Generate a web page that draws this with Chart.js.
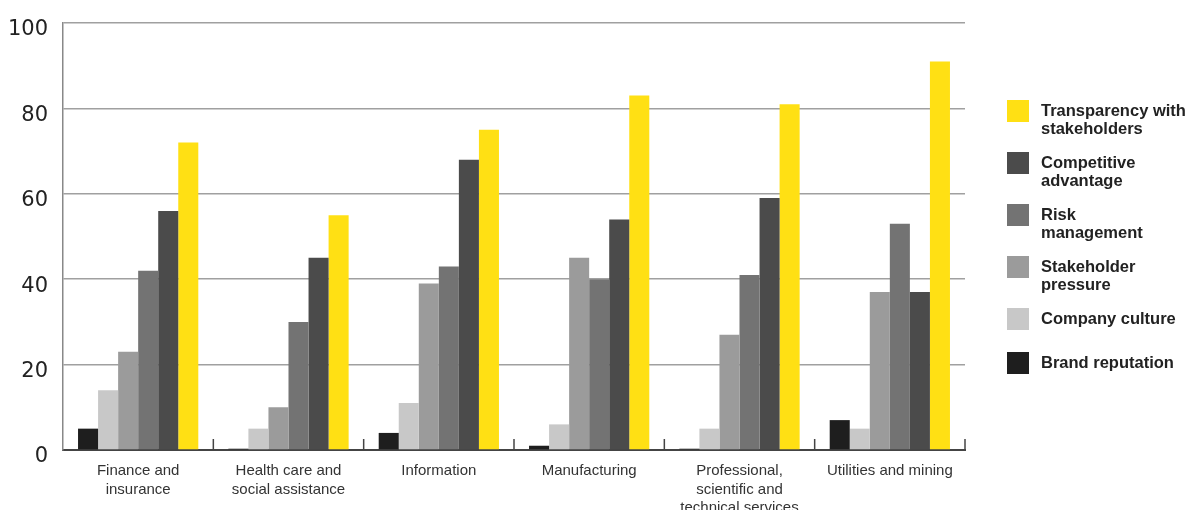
<!DOCTYPE html>
<html>
<head>
<meta charset="utf-8">
<script src="https://cdn.jsdelivr.net/npm/chart.js@4"></script>
<style>
  html, body { margin: 0; padding: 0; background: #fff; }
  #wrap { position: relative; width: 1193px; height: 510px; }
  #legend { position: absolute; left: 1007px; top: 100px; font-family: "Liberation Sans", sans-serif; font-weight: bold; font-size: 16.5px; line-height: 18px; color: #222; }
  .item { position: relative; padding-left: 34px; }
  .swatch { position: absolute; left: 0; top: 0; width: 22px; height: 22px; }
  .txt { padding-top: 1px; }
</style>
</head>
<body>
<div id="wrap">
  <canvas id="chart" width="1193" height="510"></canvas>
  <div id="legend"></div>
</div>
<script>
const categories = [
    ['Finance and', 'insurance'],
    ['Health care and', 'social assistance'],
    ['Information'],
    ['Manufacturing'],
    ['Professional,', 'scientific and', 'technical services'],
    ['Utilities and mining']
];

const brandReputation = [5, 0.3, 4, 1, 0.3, 7];
const companyCulture = [14, 5, 11, 6, 5, 5];
const stakeholderPressure = [23, 10, 39, 45, 27, 37];
const riskManagement = [42, 30, 43, 40, 41, 53];
const competitiveAdvantage = [56, 45, 68, 54, 59, 37];
const transparency = [72, 55, 75, 83, 81, 91];

const yTicks = [0, 20, 40, 60, 80, 100];

// series left to right inside each group
const series = [
    { label: ['Brand reputation'], data: brandReputation, color: '#1e1e1e' },
    { label: ['Company culture'], data: companyCulture, color: '#c8c8c8' },
    { label: ['Stakeholder', 'pressure'], data: stakeholderPressure, color: '#9b9b9b' },
    { label: ['Risk', 'management'], data: riskManagement, color: '#737373' },
    { label: ['Competitive', 'advantage'], data: competitiveAdvantage, color: '#4b4b4b' },
    { label: ['Transparency with', 'stakeholders'], data: transparency, color: '#ffe014' }
];

// small upward ticks at the category boundaries on the x axis
const boundaryTicks = {
    id: 'boundaryTicks',
    afterDatasetsDraw(chart) {
        const x = chart.scales.x;
        const ctx = chart.ctx;
        const half = (x.getPixelForTick(1) - x.getPixelForTick(0)) / 2;
        ctx.save();
        ctx.strokeStyle = '#444';
        ctx.lineWidth = 1.5;
        for (let i = 1; i <= categories.length; i++) {
            const px = x.getPixelForTick(i - 1) + half;
            ctx.beginPath();
            ctx.moveTo(px, x.top);
            ctx.lineTo(px, x.top - 11);
            ctx.stroke();
        }
        ctx.restore();
    }
};

const ctx = document.getElementById('chart').getContext('2d');
const chart = new Chart(ctx, {
    type: 'bar',
    data: {
        labels: categories,
        datasets: series.map(s => ({
            label: s.label.join(' '),
            data: s.data,
            backgroundColor: s.color,
            borderWidth: 0,
            categoryPercentage: 0.8,
            barPercentage: 1.0
        }))
    },
    options: {
        responsive: false,
        animation: false,
        layout: { padding: { top: 23, right: 228, left: 0, bottom: 0 } },
        plugins: {
            legend: { display: false },
            tooltip: { enabled: false }
        },
        scales: {
            x: {
                grid: { display: false },
                border: { display: true, color: '#444', width: 2 },
                ticks: {
                    padding: 4,
                    color: '#333',
                    font: { family: 'Liberation Sans', size: 15, lineHeight: 1.22 },
                    maxRotation: 0,
                    autoSkip: false
                },
                afterFit(scale) { scale.height = 60; }
            },
            y: {
                min: 0,
                max: 100,
                afterBuildTicks(scale) { scale.ticks = yTicks.map(v => ({ value: v })); },
                grid: { color: '#a0a0a0', lineWidth: 1.5, drawTicks: false },
                border: { display: true, color: '#888', width: 1.5 },
                ticks: {
                    padding: 15,
                    labelOffset: 7,
                    color: '#222',
                    font: { family: 'DejaVu Sans', size: 21, lineHeight: 0.8 }
                },
                afterFit(scale) {
                    scale.width = 63;
                    scale.paddingTop = 0;
                    scale.paddingBottom = 0;
                }
            }
        }
    },
    plugins: [boundaryTicks]
});

// legend on the right, top item is the last series
const legend = document.getElementById('legend');
series.slice().reverse().forEach(s => {
    const item = document.createElement('div');
    item.className = 'item';
    item.style.height = (s.label.length === 1 ? 44 : 52) + 'px';
    item.innerHTML = `<span class="swatch" style="background:${s.color}"></span><div class="txt">${s.label.join('<br>')}</div>`;
    legend.appendChild(item);
});
</script>
</body>
</html>
